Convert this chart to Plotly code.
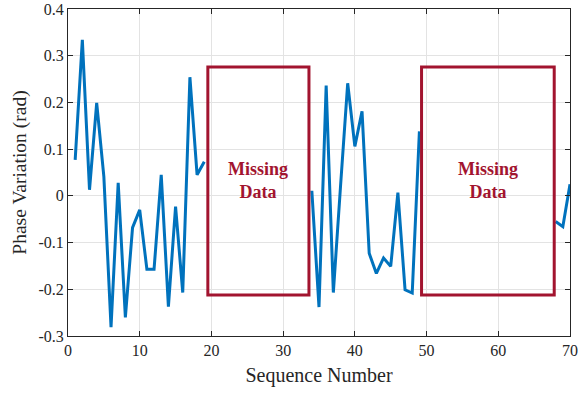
import plotly.graph_objects as go

seq = list(range(1, 71))
seg1 = [0.077, 0.334, 0.013, 0.199, 0.041, -0.281, 0.028, -0.260, -0.068, -0.030,
        -0.157, -0.157, 0.045, -0.237, -0.023, -0.207, 0.254, 0.045, 0.073]
seg2 = [0.011, -0.238, 0.236, -0.207, 0.020, 0.241, 0.106, 0.181, -0.123, -0.166,
        -0.133, -0.151, 0.007, -0.201, -0.208, 0.138]
seg3 = [-0.055, -0.066, 0.025]
phase = seg1 + [None] * 14 + seg2 + [None] * 18 + seg3

x_ticks = [0, 10, 20, 30, 40, 50, 60, 70]
y_ticks = [-0.3, -0.2, -0.1, 0, 0.1, 0.2, 0.3, 0.4]
y_ticklabels = ["-0.3", "-0.2", "-0.1", "0", "0.1", "0.2", "0.3", "0.4"]

boxes_x = [(19.5, 33.6), (49.3, 67.8)]
box_y = (-0.212, 0.276)
box_label = "Missing<br>Data"

RED = "#A2142F"
BLUE = "#0072BD"
FONT = "Liberation Serif, Times New Roman, serif"

fig = go.Figure()
fig.add_trace(go.Scatter(x=seq, y=phase, mode="lines",
                         line=dict(color=BLUE, width=3), connectgaps=False,
                         showlegend=False))
for x0, x1 in boxes_x:
    fig.add_shape(type="rect", x0=x0, x1=x1, y0=box_y[0], y1=box_y[1],
                  xref="x", yref="y", line=dict(color=RED, width=3))
    fig.add_annotation(x=(x0 + x1) / 2, y=0.033, xref="x", yref="y",
                       text="<b>" + box_label + "</b>", showarrow=False,
                       font=dict(family=FONT, size=18, color=RED))

axis_common = dict(showline=True, linecolor="#262626", linewidth=1, mirror="ticks",
                   ticks="inside", ticklen=5, tickcolor="#262626", automargin=False,
                   showgrid=True, gridcolor="#E3E3E3", gridwidth=1, zeroline=False,
                   tickfont=dict(family=FONT, size=16, color="#262626"))
fig.update_xaxes(range=[0, 70], tickvals=x_ticks, ticktext=[str(v) for v in x_ticks],
                 title=dict(text="Sequence Number", font=dict(family=FONT, size=20, color="#262626"), standoff=9),
                 **axis_common)
fig.update_yaxes(range=[-0.3, 0.4], tickvals=y_ticks, ticktext=y_ticklabels,
                 title=dict(text="Phase Variation (rad)", font=dict(family=FONT, size=19.5, color="#262626"), standoff=6),
                 **axis_common)
fig.update_layout(width=578, height=394, margin=dict(l=68, r=8, t=9, b=58),
                  plot_bgcolor="white", paper_bgcolor="white",
                  font=dict(family=FONT))
fig.write_html("out.html")
